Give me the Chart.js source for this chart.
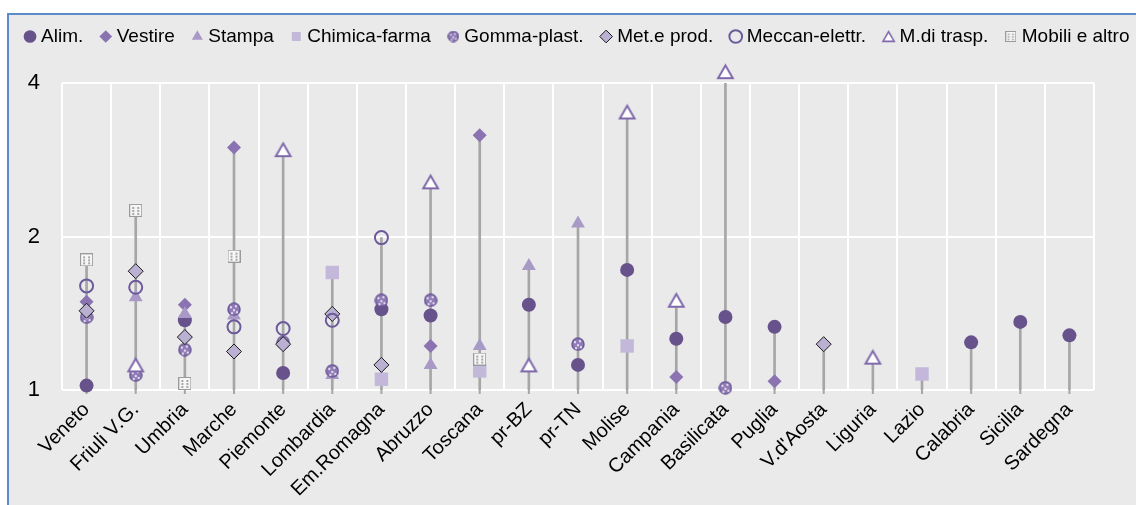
<!DOCTYPE html>
<html>
<head>
<meta charset="utf-8">
<script src="https://cdn.jsdelivr.net/npm/chart.js@4/dist/chart.umd.min.js"></script>
<style>
  html, body { margin: 0; padding: 0; background: #fff; overflow: hidden; width: 1136px; height: 505px; }
  #frame { position: absolute; left: 7px; top: 13px; right: 0; bottom: 0; background: #eaeaea;
           border-left: 2px solid #5b8bcb; border-top: 2px solid #5b8bcb; }
  #chart { position: absolute; left: -21px; top: 0; }
</style>
</head>
<body>
<div id="frame"></div>
<canvas id="chart" width="1200" height="505"></canvas>
<script>
// regions on the x axis
const regions = ["Veneto", "Friuli V.G.", "Umbria", "Marche", "Piemonte", "Lombardia", "Em.Romagna",
  "Abruzzo", "Toscana", "pr-BZ", "pr-TN", "Molise", "Campania", "Basilicata", "Puglia",
  "V.d'Aosta", "Liguria", "Lazio", "Calabria", "Sicilia", "Sardegna"];

// values per sector (null = not shown)
const alim     = [1.02, null, 1.37, null, 1.08, null, 1.44, 1.40, null, 1.47, 1.12, 1.72, 1.26, 1.39, 1.33, null, null, null, 1.24, 1.36, 1.28];
const vestire  = [1.49, null, 1.47, 2.99, null, null, null, 1.22, 3.16, null, null, null, 1.06, null, 1.04, null, null, null, null, null, null];
const stampa   = [null, 1.52, 1.41, 1.40, null, 1.07, null, 1.12, 1.22, 1.75, 2.12, null, null, null, null, null, null, null, null, null, null];
const chimica  = [null, null, null, null, null, 1.70, 1.05, null, 1.09, null, null, 1.22, null, null, null, null, null, 1.075, null, null, null];
const gomma    = [1.39, 1.07, 1.20, 1.44, 1.24, 1.09, 1.50, 1.50, null, null, 1.23, null, null, 1.01, null, null, null, null, null, null, null];
const metProd  = [1.43, 1.71, 1.27, 1.19, 1.23, 1.41, 1.12, null, null, null, null, null, null, null, null, 1.23, null, null, null, null, null];
const meccan   = [1.60, 1.59, null, 1.33, 1.32, 1.37, 1.99, null, null, null, null, null, null, null, null, null, null, null, null, null, null];
const trasp    = [null, 1.12, null, null, 2.96, null, null, 2.56, null, 1.12, null, 3.51, 1.50, 4.21, null, null, 1.16, null, null, null, null];
const mobili   = [1.80, 2.25, 1.03, 1.83, null, null, null, null, 1.15, null, null, null, null, null, null, null, null, null, null, null, null];

const yTicks = [1, 2, 4];

// patterned / outlined markers drawn on small canvases
function gommaIcon(d) {
  const c = document.createElement("canvas");
  c.width = c.height = d;
  const g = c.getContext("2d");
  const r = d / 2, s = d / 14;
  g.beginPath();
  g.arc(r, r, r - 1, 0, Math.PI * 2);
  g.fillStyle = "#8e7ab6";
  g.fill();
  g.lineWidth = 1.5;
  g.strokeStyle = "#6b5797";
  g.stroke();
  g.fillStyle = "rgba(255,255,255,0.75)";
  [[-3, -2], [2, -3], [0, 1], [-2, 4], [3, 3]].forEach(([dx, dy]) => {
    g.beginPath();
    g.arc(r + dx * s, r + dy * s, 1.2 * s, 0, Math.PI * 2);
    g.fill();
  });
  return c;
}

function mobiliIcon(d) {
  const c = document.createElement("canvas");
  c.width = c.height = d;
  const g = c.getContext("2d");
  g.fillStyle = "#f6f6f6";
  g.fillRect(0.5, 0.5, d - 1, d - 1);
  g.strokeStyle = "#9b9b9b";
  g.lineWidth = 1;
  g.strokeRect(0.5, 0.5, d - 1, d - 1);
  g.fillStyle = "#a8a8a8";
  const s = d / 13;
  [[3, 3], [8, 3], [3, 6], [8, 6], [3, 9], [8, 9]].forEach(([x, y]) => g.fillRect(x * s, y * s, 2 * s, 2 * s));
  return c;
}

function triangleIcon(r, lw) {
  const d = Math.ceil(2 * r + 2 * lw);
  const c = document.createElement("canvas");
  c.width = c.height = d;
  const g = c.getContext("2d");
  const cx = d / 2, cy = d / 2 + r / 4;
  const h = Math.sqrt(3) / 2 * r;
  g.beginPath();
  g.moveTo(cx, cy - r);
  g.lineTo(cx + h, cy + r / 2);
  g.lineTo(cx - h, cy + r / 2);
  g.closePath();
  g.fillStyle = "#ffffff";
  g.fill();
  g.lineWidth = lw;
  g.lineJoin = "miter";
  g.strokeStyle = "#7f69ac";
  g.stroke();
  return c;
}

const series = [
  { label: "Alim.", data: alim, style: "circle", r: 7, bg: "#67528b", bc: "#67528b", bw: 0 },
  { label: "Vestire", data: vestire, style: "rectRot", r: 7, bg: "#8a73b0", bc: "#8a73b0", bw: 0 },
  { label: "Stampa", data: stampa, style: "triangle", r: 8, bg: "#a899c6", bc: "#a899c6", bw: 0 },
  { label: "Chimica-farma", data: chimica, style: "rect", r: 9.5, bg: "#c3b8d9", bc: "#c3b8d9", bw: 0 },
  { label: "Gomma-plast.", data: gomma, style: gommaIcon(14), legend: gommaIcon(12), r: 7, bg: "#8e7ab6", bc: "#6b5797", bw: 1 },
  { label: "Met.e prod.", data: metProd, style: "rectRot", r: 7.5, bg: "#b9b0d2", bc: "#1a1a1a", bw: 1 },
  { label: "Meccan-elettr.", data: meccan, style: "circle", r: 6.5, bg: "rgba(0,0,0,0)", bc: "#6d5a9b", bw: 2 },
  { label: "M.di trasp.", data: trasp, style: triangleIcon(8.5, 2), legend: triangleIcon(6.5, 1.6), r: 14, bg: "#ffffff", bc: "#7f69ac", bw: 2 },
  { label: "Mobili e altro", data: mobili, style: mobiliIcon(13), legend: mobiliIcon(11), r: 7, bg: "#f6f6f6", bc: "#9b9b9b", bw: 1 }
];

// stems go from 1 up to the highest marker of each region
const stemTop = regions.map((_, i) => Math.max(...series.map(s => s.data[i] == null ? 1 : s.data[i])));

const datasets = [{
  type: "bar",
  label: "stem",
  data: stemTop.map(v => [1, v]),
  backgroundColor: "#a6a6a6",
  barThickness: 2,
  order: 100
}];

series.forEach((s, i) => {
  datasets.push({
    type: "line",
    label: s.label,
    data: s.data,
    showLine: false,
    pointStyle: s.style,
    pointRadius: s.r,
    pointHoverRadius: s.r,
    pointBackgroundColor: s.bg,
    pointBorderColor: s.bc,
    pointBorderWidth: s.bw,
    backgroundColor: s.bg,
    borderColor: s.bc,
    borderWidth: s.bw,
    legendIcon: s.legend,
    clip: false,
    order: -i
  });
});

// short gray tick marks under each stem
const stemTicks = {
  id: "stemTicks",
  beforeDatasetsDraw(chart) {
    const { ctx, chartArea, scales } = chart;
    ctx.save();
    ctx.strokeStyle = "#a6a6a6";
    ctx.lineWidth = 2;
    regions.forEach((_, i) => {
      const x = scales.x.getPixelForValue(i);
      ctx.beginPath();
      ctx.moveTo(x, chartArea.bottom);
      ctx.lineTo(x, chartArea.bottom + 4);
      ctx.stroke();
    });
    ctx.restore();
  }
};

const fontMain = "'Liberation Sans', Arial, sans-serif";

new Chart(document.getElementById("chart"), {
  data: { labels: regions, datasets: datasets },
  plugins: [stemTicks],
  options: {
    responsive: false,
    animation: false,
    layout: { padding: { top: 6, left: 0, right: 0, bottom: 0 } },
    plugins: {
      tooltip: { enabled: false },
      legend: {
        position: "top",
        labels: {
          usePointStyle: true,
          boxWidth: 3,
          boxHeight: 9,
          padding: 21,
          color: "#000",
          font: { family: fontMain, size: 19 },
          filter: item => item.datasetIndex > 0,
          sort: (a, b) => a.datasetIndex - b.datasetIndex,
          generateLabels(chart) {
            const items = Chart.defaults.plugins.legend.labels.generateLabels(chart);
            items.forEach(it => {
              const ds = chart.data.datasets[it.datasetIndex];
              if (ds.legendIcon) it.pointStyle = ds.legendIcon;
            });
            return items;
          }
        }
      },
      title: {
        display: true,
        text: " ",
        weight: 500,
        padding: 0,
        font: { size: 27, lineHeight: 1 }
      }
    },
    scales: {
      x: {
        type: "category",
        offset: true,
        grid: { color: "#fff", lineWidth: 2, offset: true, drawTicks: false },
        border: { display: false },
        ticks: {
          autoSkip: false,
          minRotation: 45,
          maxRotation: 45,
          padding: 8,
          color: "#000",
          font: { family: fontMain, size: 20 }
        },
        afterFit: s => { s.height = 115; }
      },
      y: {
        type: "logarithmic",
        position: "left",
        min: 1,
        max: 4,
        afterBuildTicks: s => { s.ticks = yTicks.map(v => ({ value: v })); },
        grid: { color: "#fff", lineWidth: 2, drawTicks: false },
        border: { display: false },
        ticks: {
          padding: 22,
          color: "#000",
          font: { family: "'Liberation Sans Narrow', 'Liberation Sans', Arial, sans-serif", size: 22 },
          callback: v => String(v)
        },
        afterFit: s => { s.width = 83; }
      },
      yRight: {
        type: "linear",
        position: "right",
        display: true,
        grid: { display: false, drawOnChartArea: false },
        border: { display: false },
        ticks: { display: false },
        afterFit: s => { s.width = 85; }
      }
    }
  }
});
</script>
</body>
</html>
